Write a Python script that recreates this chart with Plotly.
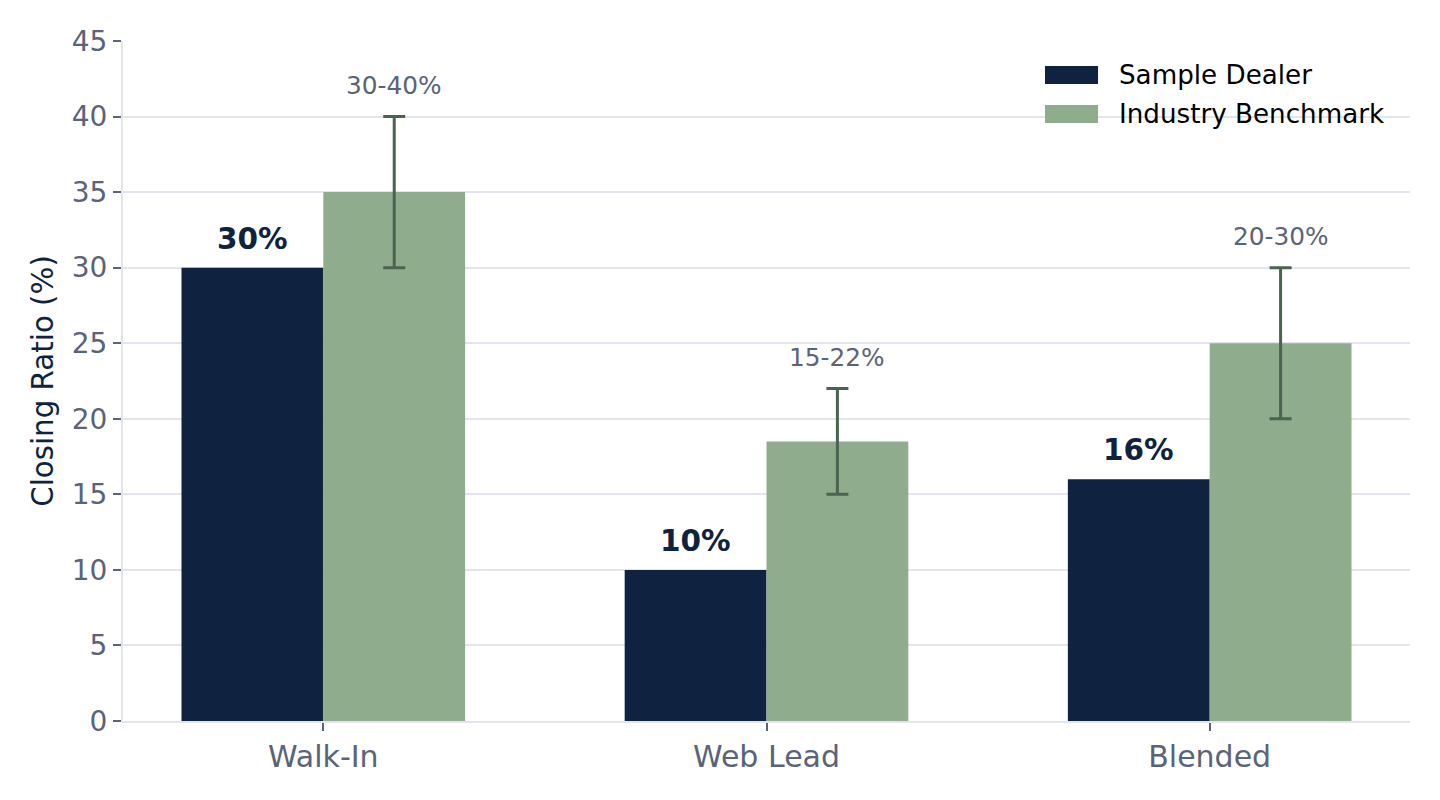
import plotly.graph_objects as go

categories = ["Walk-In", "Web Lead", "Blended"]
series_names = ["Sample Dealer", "Industry Benchmark"]
dealer_values = [30, 10, 16]
benchmark_values = [35, 18.5, 25]
benchmark_low = [30, 15, 20]
benchmark_high = [40, 22, 30]
y_ticks = [0, 5, 10, 15, 20, 25, 30, 35, 40, 45]

DEALER = "#0f2341"
BENCH = "#8fac8c"
ERR = "#4b6350"
SLATE = "#5a6478"
GRID = "#e3e5ee"
FONT = "DejaVu Sans"

W = 0.32

fig = go.Figure()
fig.add_trace(go.Bar(
    x=categories, y=dealer_values, name=series_names[0],
    marker=dict(color=DEALER, line=dict(width=0)),
    width=W, offset=-W, showlegend=False,
))
fig.add_trace(go.Bar(
    x=categories, y=benchmark_values, name=series_names[1],
    marker=dict(color=BENCH, line=dict(width=0)),
    width=W, offset=0, showlegend=False,
    error_y=dict(
        type="data",
        array=[h - v for h, v in zip(benchmark_high, benchmark_values)],
        arrayminus=[v - l for l, v in zip(benchmark_low, benchmark_values)],
        color=ERR, thickness=3, width=11,
    ),
))

annotations = []
for i, v in enumerate(dealer_values):
    annotations.append(dict(
        x=i - W / 2, y=v, xref="x", yref="y", text=f"<b>{v}%</b>",
        showarrow=False, yanchor="bottom", yshift=10,
        font=dict(family=FONT, size=29.5, color=DEALER),
    ))
for i, (lo, hi) in enumerate(zip(benchmark_low, benchmark_high)):
    annotations.append(dict(
        x=i + W / 2, y=hi, xref="x", yref="y", text=f"{lo}-{hi}%",
        showarrow=False, yanchor="bottom", yshift=15,
        font=dict(family=FONT, size=24.8, color=SLATE),
    ))

# custom legend
legend_colors = [DEALER, BENCH]
legend_y = [0.95, 0.8926]
shapes = []
for name, col, ly in zip(series_names, legend_colors, legend_y):
    shapes.append(dict(
        type="rect", xref="paper", yref="paper",
        x0=0.7164, x1=0.7576, y0=ly - 0.0132, y1=ly + 0.0132,
        fillcolor=col, line=dict(width=0),
    ))
    annotations.append(dict(
        x=0.7725, y=ly, xref="paper", yref="paper", text=name,
        showarrow=False, xanchor="left", yanchor="middle",
        font=dict(family=FONT, size=26.2, color="#000000"),
    ))

fig.update_layout(
    width=1432, height=792,
    margin=dict(l=115, r=30, t=33, b=79),
    paper_bgcolor="white", plot_bgcolor="white",
    font=dict(family=FONT, color=SLATE),
    barmode="overlay",
    showlegend=False,
    annotations=annotations,
    shapes=shapes,
    xaxis=dict(
        type="category",
        range=[-0.452, 2.452],
        showgrid=False, zeroline=False,
        showline=True, linecolor=GRID, linewidth=2,
        ticks="outside", ticklen=8, tickwidth=1.5, tickcolor=SLATE,
        tickfont=dict(family=FONT, size=30, color=SLATE),
    ),
    yaxis=dict(
        range=[0, 45], tickvals=y_ticks,
        showgrid=True, gridcolor=GRID, gridwidth=1.5,
        zeroline=False,
        showline=True, linecolor=GRID, linewidth=2,
        ticks="outside", ticklen=8, tickwidth=1.5, tickcolor=SLATE,
        tickfont=dict(family=FONT, size=28, color=SLATE),
        title=dict(text="Closing Ratio (%)", standoff=10,
                   font=dict(family=FONT, size=29.3, color=DEALER)),
    ),
)

fig.write_html("out.html")
